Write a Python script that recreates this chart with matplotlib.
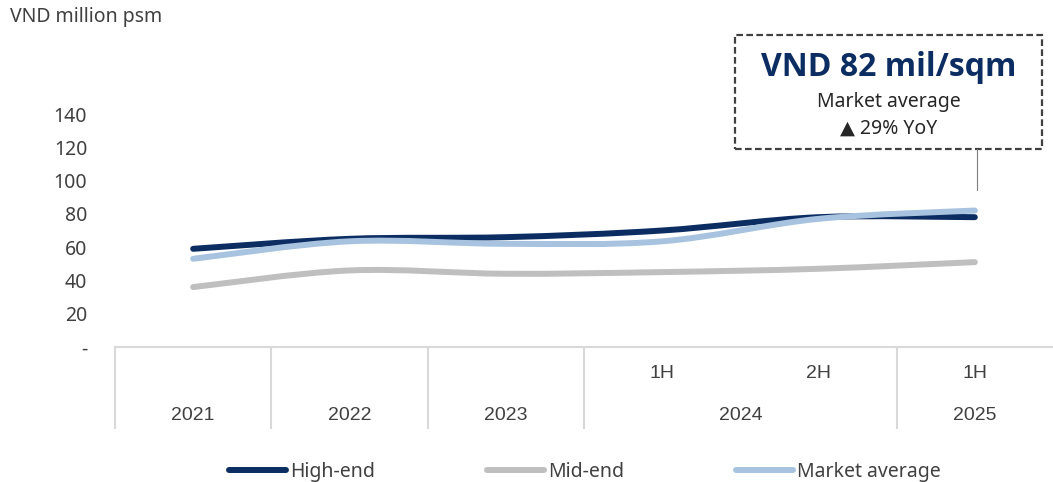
import matplotlib
matplotlib.use("Agg")
import matplotlib.pyplot as plt
from matplotlib.path import Path
from matplotlib.patches import PathPatch, Rectangle
from matplotlib.lines import Line2D

# data
halves = ["", "", "", "1H", "2H", "1H"]
years = ["2021", "2022", "2023", "2024", "2025"]
year_first = [0, 1, 2, 3, 5]   # first period index of each year
year_last = [0, 1, 2, 4, 5]    # last period index of each year
high_end = [59, 65, 66, 70, 78, 78]
mid_end = [36, 46, 44, 45, 47, 51]
market_avg = [53, 63.5, 62, 63.5, 77, 82]
y_ticks = [0, 20, 40, 60, 80, 100, 120, 140]
y_labels = ["-", "20", "40", "60", "80", "100", "120", "140"]

C_HIGH = "#0c2d62"
C_MID = "#bfbfbf"
C_MKT = "#a8c3df"
C_TXT = "#404040"
C_GRID = "#d9d9d9"

W, H = 1053, 482


def smooth_path(xs, ys):
    # excel-like smoothed line: catmull-rom turned into cubic bezier
    n = len(xs)
    verts = [(xs[0], ys[0])]
    codes = [Path.MOVETO]
    for i in range(n - 1):
        i0, i3 = max(i - 1, 0), min(i + 2, n - 1)
        x0, y0 = xs[i0], ys[i0]
        x1, y1 = xs[i], ys[i]
        x2, y2 = xs[i + 1], ys[i + 1]
        x3, y3 = xs[i3], ys[i3]
        verts += [(x1 + (x2 - x0) / 6, y1 + (y2 - y0) / 6),
                  (x2 - (x3 - x1) / 6, y2 - (y3 - y1) / 6),
                  (x2, y2)]
        codes += [Path.CURVE4] * 3
    return Path(verts, codes)


def fx(px):
    return px / W


def fy(py):
    return 1 - py / H


fig = plt.figure(figsize=(W / 100, H / 100), dpi=100)
ax = fig.add_axes([fx(115), fy(347), fx(1053 - 115), (347 - 114) / H])

x = list(range(len(halves)))
for vals, col in [(high_end, C_HIGH), (mid_end, C_MID), (market_avg, C_MKT)]:
    ax.add_patch(PathPatch(smooth_path(x, vals), fill=False, ec=col, lw=4.3,
                           capstyle="round", joinstyle="round"))

ax.set_xlim(-0.5, len(halves) - 0.5)
ax.set_ylim(0, 140)
ax.set_yticks(y_ticks)
ax.set_yticklabels(y_labels, fontsize=14, color=C_TXT, family="Noto Sans")
ax.tick_params(axis="y", length=0, pad=20)
ax.set_xticks([])
for s in ax.spines.values():
    s.set_visible(False)

# category table under the plot
trans = ax.get_xaxis_transform()
bot = -(428 - 347) / (347 - 114)
ax.plot([-0.5, len(halves) - 0.5], [0, 0], color=C_GRID, lw=1.5,
        transform=trans, clip_on=False)
for i in year_first:
    ax.plot([i - 0.5, i - 0.5], [0, bot], color=C_GRID, lw=1.5,
            transform=trans, clip_on=False)
for i, lab in enumerate(halves):
    if lab:
        ax.text(i, -(374 - 347) / (347 - 114), lab, transform=trans,
                ha="center", va="center", fontsize=14, color=C_TXT,
                family="Liberation Sans")
for lab, a, b in zip(years, year_first, year_last):
    ax.text((a + b) / 2, -(415 - 347) / (347 - 114), lab, transform=trans,
            ha="center", va="center", fontsize=14, color=C_TXT,
            family="Liberation Sans")

fig.text(fx(10), fy(17), "VND million psm", ha="left", va="center",
         fontsize=14, color=C_TXT, family="Noto Sans")

# legend
handles = [Line2D([], [], color=c, lw=4.3, solid_capstyle="round")
           for c in (C_HIGH, C_MID, C_MKT)]
fig.legend(handles, ["High-end", "Mid-end", "Market average"], ncol=3,
           loc="center", bbox_to_anchor=(fx(585), fy(472)), frameon=False,
           handlelength=2.9, handletextpad=0.2, columnspacing=5.8,
           prop={"family": "Noto Sans", "size": 14}, labelcolor=C_TXT)

# callout box
fig.patches.append(Rectangle((fx(735), fy(149)), fx(1042 - 735), (149 - 35) / H,
                             transform=fig.transFigure, fill=False,
                             ec="#404040", lw=1.6, ls=(0, (3, 1.5))))
fig.lines.append(Line2D([fx(977), fx(977)], [fy(149), fy(190)],
                        transform=fig.transFigure, color="#7f7f7f", lw=0.8))
cx = fx(888.5)
fig.text(cx, fy(67), "VND 82 mil/sqm", ha="center", va="center",
         fontsize=23, fontweight="bold", color=C_HIGH,
         family=["Open Sans", "Lato", "DejaVu Sans"])
fig.text(cx, fy(102), "Market average", ha="center", va="center",
         fontsize=14, color="#262626", family="Noto Sans")
fig.text(cx, fy(129), "▲ 29% YoY", ha="center", va="center",
         fontsize=14, color="#262626", family=["Noto Sans", "DejaVu Sans"])

fig.savefig("out.png", dpi=100)
